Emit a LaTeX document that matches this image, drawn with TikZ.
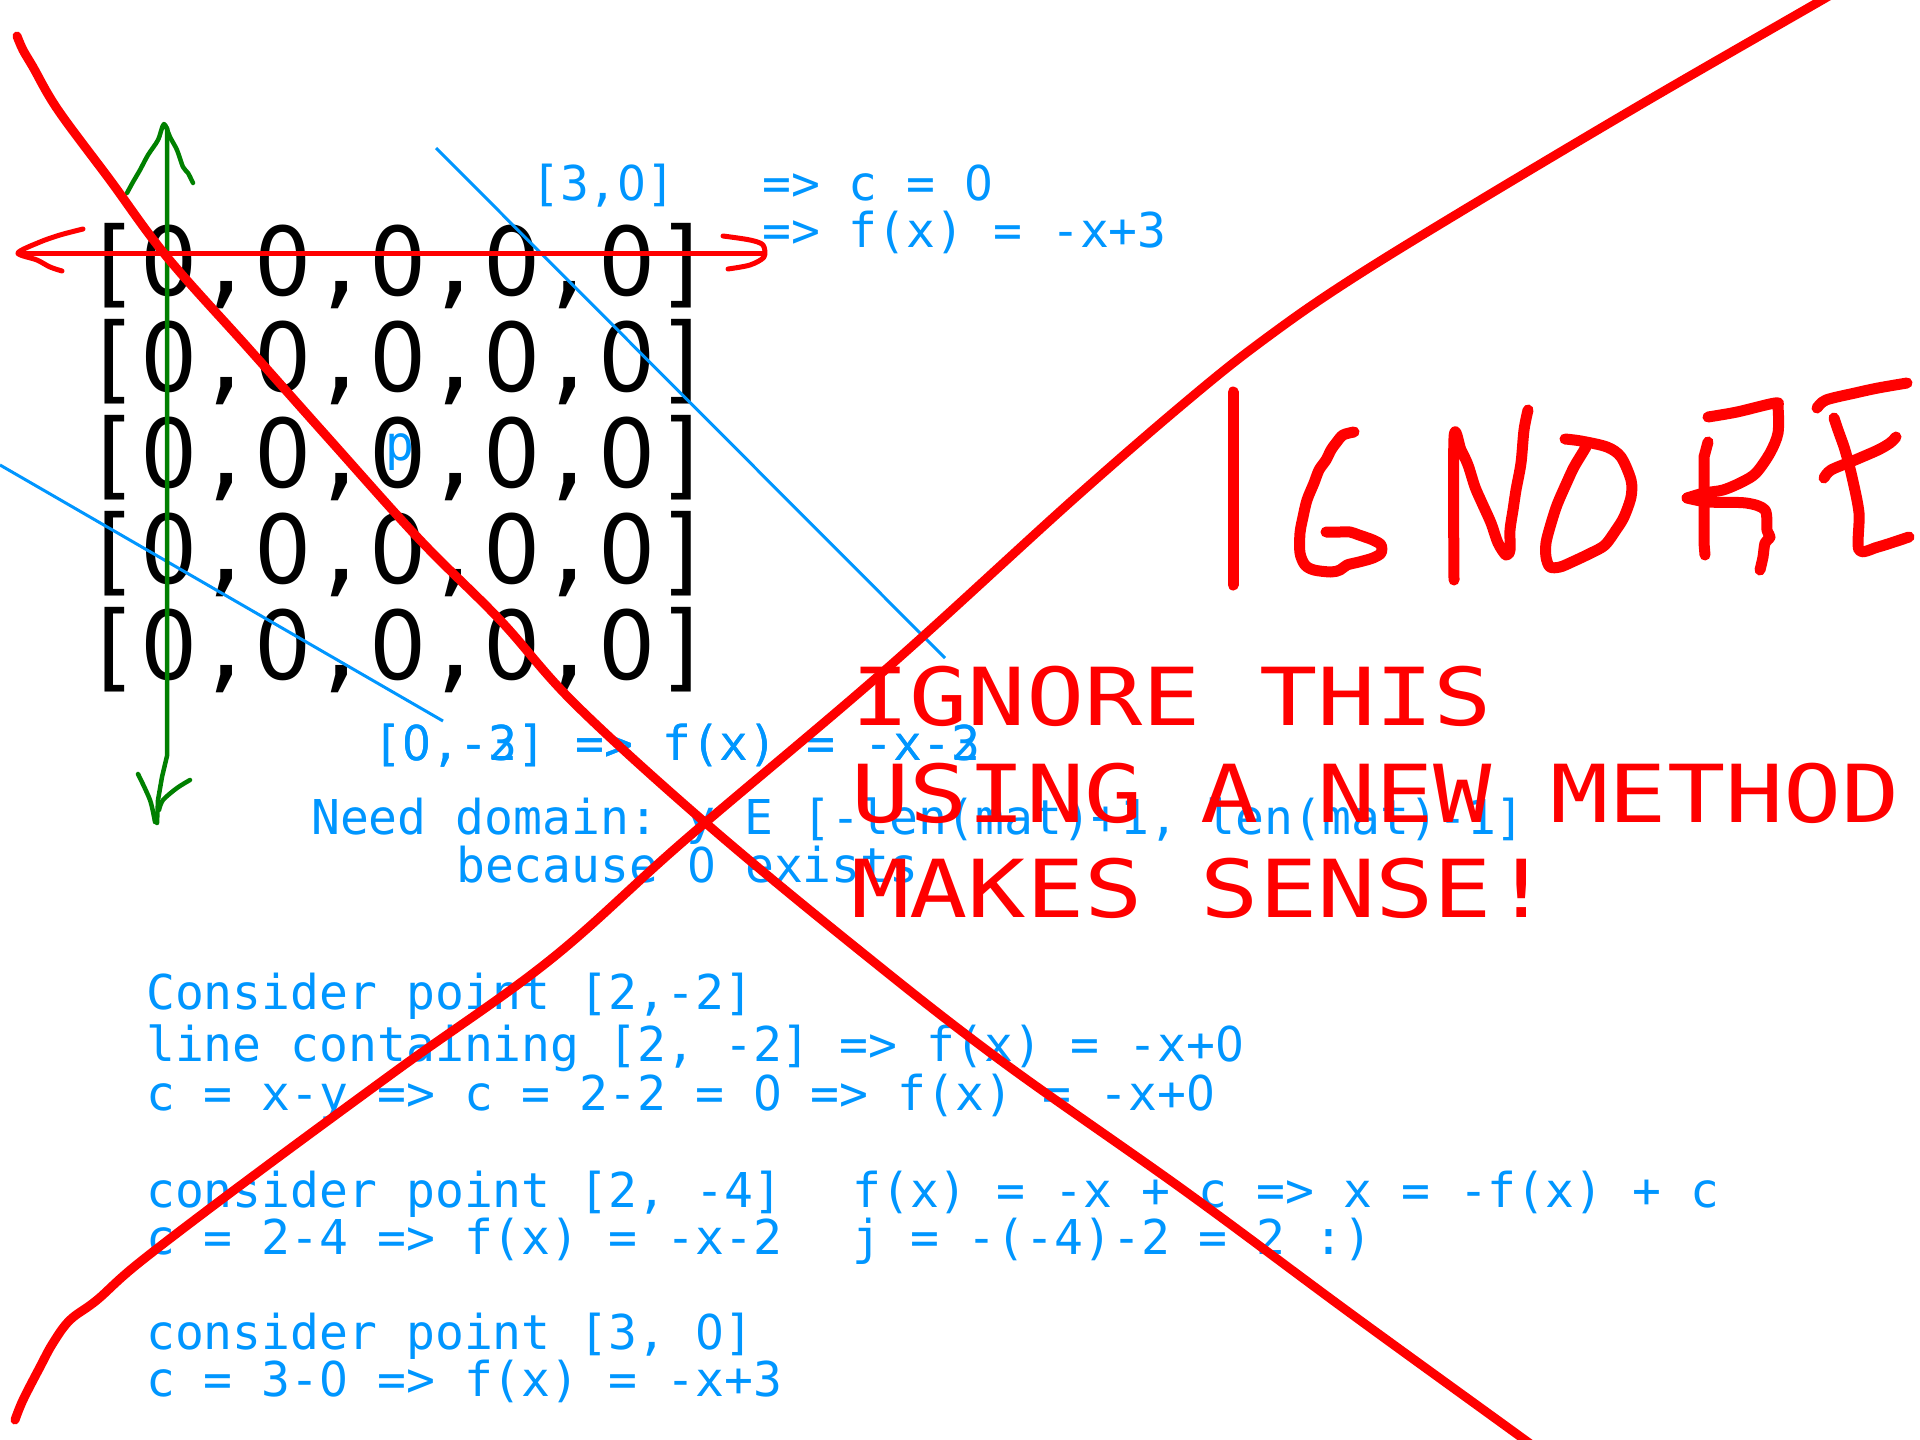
\documentclass[tikz,border=0pt]{standalone}
\usepackage{fontspec}
\setmonofont{DejaVu Sans Mono}
\newfontfamily\shoutmono[FakeStretch=1.21]{DejaVu Sans Mono}
\newfontfamily\zerofam[FakeStretch=0.9465]{DejaVu Sans}
\usetikzlibrary{positioning}

% plain zero (no dot) inside the mono texts
\newXeTeXintercharclass\zeroclass
\XeTeXcharclass`0=\zeroclass
\XeTeXinterchartoks 0 \zeroclass = {\zerofam}
\XeTeXinterchartoks 1 \zeroclass = {\zerofam}
\XeTeXinterchartoks 2 \zeroclass = {\zerofam}
\XeTeXinterchartoks 3 \zeroclass = {\zerofam}
\XeTeXinterchartoks 4095 \zeroclass = {\zerofam}
\XeTeXinterchartoks \zeroclass 0 = {\ttfamily}
\XeTeXinterchartoks \zeroclass 1 = {\ttfamily}
\XeTeXinterchartoks \zeroclass 2 = {\ttfamily}
\XeTeXinterchartoks \zeroclass 3 = {\ttfamily}
\XeTeXinterchartoks \zeroclass 4095 = {\ttfamily}

\definecolor{inkblue}{RGB}{0,150,255}
\definecolor{inkred}{RGB}{255,0,0}
\definecolor{inkgreen}{RGB}{0,128,0}

\tikzset{
  matrow/.style={anchor=base west, inner sep=0pt, font=\fontsize{95pt}{100pt}\selectfont\ttfamily},
  note/.style={anchor=base west, inner sep=0pt, text=inkblue, font=\fontsize{48pt}{52pt}\selectfont\ttfamily},
  shout/.style={anchor=base west, inner sep=0pt, text=inkred, font=\fontsize{80pt}{84pt}\selectfont\shoutmono},
  guide/.style={draw=inkblue, line width=3pt},
  axis/.style={draw=inkgreen, line width=4.5pt, line cap=round, line join=round},
  arrowpen/.style={draw=inkred, line width=5pt, line cap=round, line join=round},
  cross/.style={draw=inkred, line width=9pt, line cap=round, line join=round},
  pen/.style={draw=inkred, line width=11pt, line cap=round, line join=round},
}

\begin{document}
\XeTeXinterchartokenstate=1
\begin{tikzpicture}[x=1pt, y=-1pt]
    % Page
    \fill[white] (0,0) rectangle (1920,1440);
    \useasboundingbox (0,0) rectangle (1920,1440);

    % The matrix
    \foreach \r in {1,...,5}
        \node[matrow] (row\r) at (83, {295+96*(\r-1)}) {[0,0,0,0,0]};

    % Notes next to the matrix
    \node[note] (pt30) at (531,200) {[3,0]};
    \node[note] (cis0) at (762,200) {=> c = 0};
    \node[note] (fx3) at (762,247) {=> f(x) = -x+3};
    \node[note] (p) at (385,460) {p};
    \node[note] (pt03) at (373,760) {[0,-3] => f(x) = -x-3};
    \node[note] (domain) at (311,834) {Need domain: y E [-len(mat)+1, len(mat)-1]};
    \node[note] (because) at (456,882) {because 0 exists};

    % Worked points
    \node[note] (cons22) at (146,1009) {Consider point [2,-2]};
    \node[note] (line22) at (146,1061) {line containing [2, -2] => f(x) = -x+0};
    \node[note] (c22) at (146,1110) {c = x-y => c = 2-2 = 0 => f(x) = -x+0};
    \node[note] (cons24) at (146,1207) {consider point [2, -4]};
    \node[note] (c24) at (146,1254) {c = 2-4 => f(x) = -x-2};
    \node[note] (cons30) at (146,1349) {consider point [3, 0]};
    \node[note] (c30) at (146,1396) {c = 3-0 => f(x) = -x+3};
    \node[note] (solve) at (852,1207) {f(x) = -x + c => x = -f(x) + c};
    \node[note] (check) at (852,1254) {j = -(-4)-2 = 2 :)};

    % Blue lines through the matrix
    \draw[guide] (436,148) -- (945,658);
    \draw[guide] (0,465) -- (443,721);

    % Green axis
    \draw[axis] (167,128) -- (167,756) -- (162,777) -- (158,800) -- (157,823);
    \draw[axis] plot[smooth, tension=0.5] coordinates {(127,193) (133,182) (140,170) (148,155) (158,140) (164,124) (170,137) (177,150) (183,167) (188,173) (193,183)};
    \draw[axis] plot[smooth, tension=0.5] coordinates {(138,774) (150,800) (155,822)};
    \draw[axis] plot[smooth, tension=0.5] coordinates {(190,780) (177,788) (163,800) (159,810)};

    % Red axis
    \draw[arrowpen] (18,253) -- (764,253);
    \draw[arrowpen] plot[smooth, tension=0.5] coordinates {(83,229) (60,235) (40,242) (18,253) (37,260) (50,267) (62,271)};
    \draw[arrowpen] plot[smooth, tension=0.5] coordinates {(723,236) (750,240) (763,245) (764,257) (750,265) (728,269)};

    % Big notice
    \node[shout] (ignore) at (851,725) {IGNORE THIS};
    \node[shout] (method) at (851,822) {USING A NEW METHOD};
    \node[shout] (sense) at (851,917) {MAKES SENSE!};
    \node[note] (pt02) at (373,760) {[0,-2] => f(x) = -x-2};

    % Cross out
    \draw[cross] plot[smooth, tension=0.6] coordinates {(17,36) (23,50) (33,67) (58,110) (110,180) (167,257) (250,350) (330,440) (420,540) (500,620) (576,705) (708,825) (859,950) (1000,1060) (1185,1191) (1350,1313) (1525,1440) (1535,1448)};
    \draw[cross] plot[smooth, tension=0.6] coordinates {(15,1420) (23,1400) (40,1367) (53,1343) (70,1320) (97,1300) (140,1262) (245,1182) (400,1068) (550,960) (685,840) (884,671) (1076,497) (1200,390) (1273,333) (1347,282) (1457,214) (1640,105) (1822,0) (1832,-6)};

    % Handwritten IGNORE
    \draw[pen] (1233,392) -- (1233,585);
    \draw[pen] plot[smooth, tension=0.5] coordinates {(1354,432) (1343,435) (1336,443) (1331,450) (1326,460) (1319,470) (1314,483) (1307,500) (1303,517) (1300,533) (1300,553) (1305,565) (1314,570) (1331,572) (1340,570) (1347,565) (1359,562) (1373,558) (1381,553) (1381,545) (1373,540) (1359,535) (1350,532) (1340,532) (1326,532)};
    \draw[pen] plot[smooth, tension=0.5] coordinates {(1454,580) (1454,438) (1461,450) (1468,465) (1475,487) (1482,503) (1491,523) (1498,543) (1506,555) (1510,550) (1510,530) (1513,510) (1516,490) (1521,463) (1524,430) (1528,410)};
    \draw[pen] plot[smooth, tension=0.5] coordinates {(1565,439) (1581,441) (1607,447) (1621,457) (1631,480) (1631,497) (1624,517) (1616,530) (1605,545) (1591,553) (1572,562) (1560,567) (1550,567) (1546,557) (1546,543) (1550,527) (1557,505) (1567,482) (1574,467) (1583,452) (1586,447)};
    \draw[pen] (1708,442) -- (1704,457) -- (1704,543) -- (1705,555);
    \draw[pen] plot[smooth, tension=0.5] coordinates {(1708,417) (1737,412) (1775,403) (1778,407) (1778,433) (1770,453) (1756,473) (1742,482) (1723,490) (1704,493) (1687,498)};
    \draw[pen] plot[smooth, tension=0.5] coordinates {(1687,498) (1708,502) (1746,503) (1765,510) (1767,530) (1770,537) (1765,543) (1763,557) (1760,570)};
    \draw[pen] plot[smooth, tension=0.5] coordinates {(1817,408) (1826,400) (1855,393) (1878,388) (1907,383)};
    \draw[pen] plot[smooth, tension=0.5] coordinates {(1834,418) (1838,430) (1845,450) (1852,477) (1859,513) (1859,550) (1878,547) (1909,537)};
    \draw[pen] plot[smooth, tension=0.5] coordinates {(1824,478) (1831,470) (1855,460) (1878,450) (1890,443) (1896,437)};
\end{tikzpicture}
\end{document}
